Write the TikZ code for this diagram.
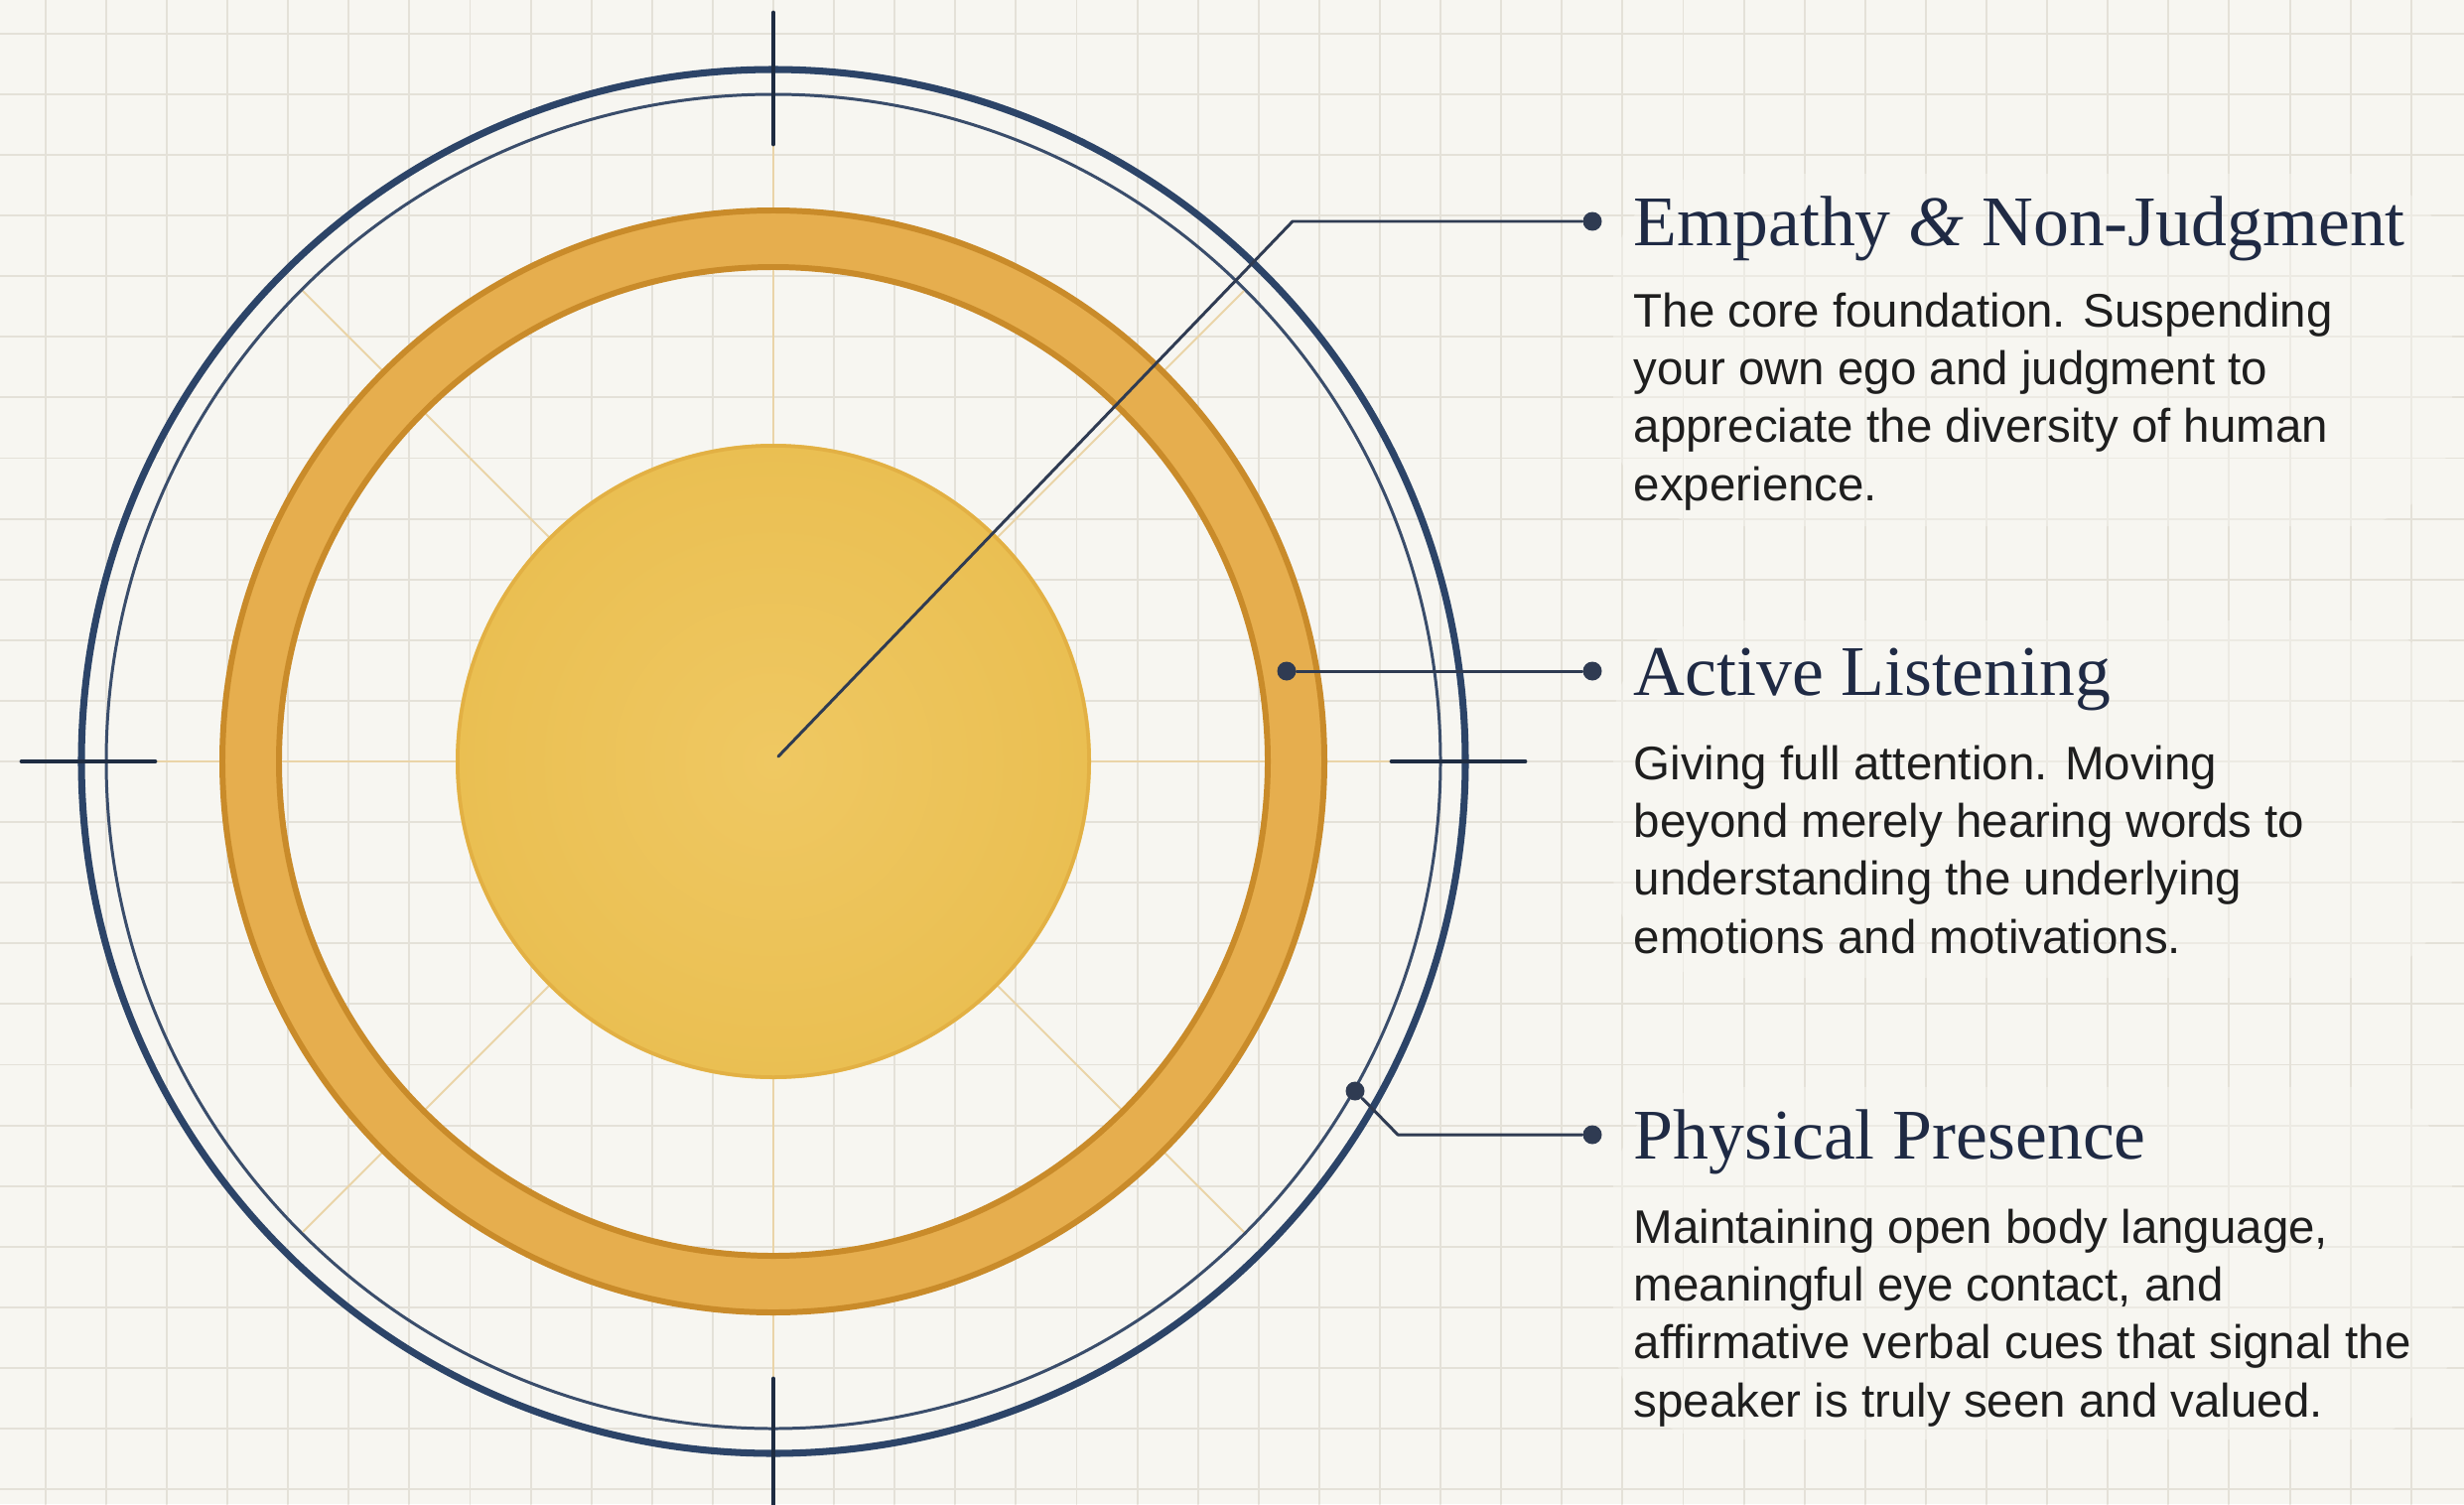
\documentclass[tikz,border=0pt]{standalone}
\usepackage{fontspec}
\setmainfont{Liberation Serif}
\newfontfamily\bodyfont{Liberation Sans}
\usetikzlibrary{calc}
\definecolor{paper}{HTML}{F7F6F1}
\definecolor{gridgray}{HTML}{E4E1D8}
\definecolor{navy}{HTML}{2C4468}
\definecolor{navythin}{HTML}{3A4D6B}
\definecolor{tickink}{HTML}{1E2C42}
\definecolor{connink}{HTML}{2F3B52}
\definecolor{ringfill}{HTML}{E6AE4E}
\definecolor{ringedge}{HTML}{C98B2A}
\definecolor{discin}{HTML}{EFC862}
\definecolor{discout}{HTML}{EABF52}
\definecolor{discedge}{HTML}{E2B044}
\definecolor{guide}{HTML}{EAD4A8}
\definecolor{headink}{HTML}{1F2A44}
\definecolor{bodyink}{HTML}{1E1E1E}
\tikzset{
  gridline/.style={gridgray, line width=0.55pt},
  guideline/.style={guide, line width=0.55pt},
  dot/.style={circle, fill=connink, inner sep=0, minimum size=5.4pt},
  conn/.style={connink, line width=0.85pt},
  head/.style={anchor=base west, inner sep=0, text=headink, font=\fontsize{20.4}{24}\selectfont},
  % multi-line body: its base is the baseline of the last line
  body/.style={anchor=base west, inner sep=0, align=left, text=bodyink, font=\bodyfont\fontsize{13.5}{16.5}\selectfont}
}
\begin{document}
\begin{tikzpicture}[x=0.01cm, y=-0.01cm, line cap=round, line join=round]
  \def\cx{779} \def\cy{767} \def\gs{61.1}
  \fill[paper] (0,0) rectangle (2482,1515);
  \useasboundingbox (0,0) rectangle (2482,1515);
  \coordinate (O) at (\cx,\cy);
  % grid paper
  \foreach \i in {-12,...,27} \draw[gridline] ({\cx+\gs*\i},0)--({\cx+\gs*\i},1515);
  \foreach \j in {-12,...,12} \draw[gridline] (0,{\cy+\gs*\j})--(2482,{\cy+\gs*\j});
  % soft paper behind the texts
  \fill[paper, opacity=.45, rounded corners=30] (1625,175) rectangle (2470,530)
    (1625,625) rectangle (2470,985) (1625,1095) rectangle (2470,1450);
  % guide lines
  \foreach \a in {0,90,180,270} \draw[guideline] ($(O)+(\a:320)$)--($(O)+(\a:622)$);
  \foreach \a in {45,135,225,315} \draw[guideline] ($(O)+(\a:320)$)--($(O)+(\a:672)$);
  % golden ring
  \draw[ringfill, line width=16.8pt] (O) circle (527);
  \draw[ringedge, line width=1.7pt] (O) circle (555) (O) circle (498);
  % core disc
  \shade[inner color=discin, outer color=discout] (O) circle (320);
  \draw[discedge, line width=1pt] (O) circle (318);
  % navy circles and ticks
  \draw[navythin, line width=0.85pt] (O) circle (672);
  \draw[navy, line width=2pt] (O) circle (697);
  \draw[tickink, line width=1.4pt] (\cx,13)--(\cx,145) (\cx,1389)--(\cx,1521)
    (22,\cy)--(156,\cy) (1402,\cy)--(1536,\cy);
  % connectors
  \coordinate (c1) at (784,762);
  \coordinate (k1) at (1302,223);
  \node[dot] (d1) at (1604,223) {};
  \draw[conn] (c1)--(k1)--(d1);
  \node[dot] (r2) at (1296,676) {};
  \node[dot] (d2) at (1604,676) {};
  \draw[conn] (r2)--(d2);
  \node[dot] (r3) at (1365,1099) {};
  \coordinate (k3) at (1408,1143);
  \node[dot] (d3) at (1604,1143) {};
  \draw[conn] (r3)--(k3)--(d3);
  % texts
  \node[head] (h1) at (1645,247) {Empathy {\itshape\&} Non-Judgment};
  \node[body] (b1) at (1645,504) {The core foundation. Suspending\\your own ego and judgment to\\appreciate the diversity of human\\experience.};
  \node[head] (h2) at (1645,700) {Active Listening};
  \node[body] (b2) at (1645,960) {Giving full attention. Moving\\beyond merely hearing words to\\understanding the underlying\\emotions and motivations.};
  \node[head] (h3) at (1645,1167) {Physical Presence};
  \node[body] (b3) at (1645,1427) {Maintaining open body language,\\meaningful eye contact, and\\affirmative verbal cues that signal the\\speaker is truly seen and valued.};
\end{tikzpicture}
\end{document}
